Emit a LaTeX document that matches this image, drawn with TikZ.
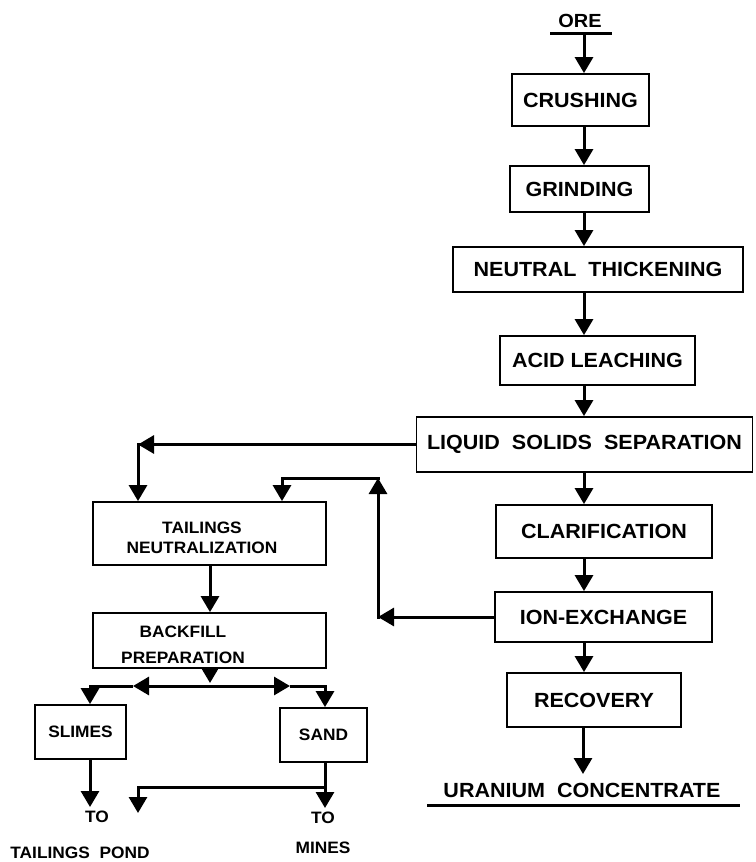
\documentclass[tikz,border=0pt]{standalone}
\usepackage{fontspec}
\setmainfont{Liberation Sans}[FakeStretch=1.05]
\usetikzlibrary{arrows.meta}
\newcommand\BigT{\bfseries\fontsize{20.5}{24}\selectfont}
\newcommand\SmT{\bfseries\fontsize{16.5}{20}\selectfont}
\begin{document}
\begin{tikzpicture}[x=1pt,y=-1pt,
  box/.style={draw, line width=1.8pt, inner sep=0pt, font=\BigT},
  sbox/.style={draw, line width=1.8pt, inner sep=0pt, font=\SmT, align=center},
  ln/.style={line width=3pt},
  flow/.style={line width=3pt, -{Triangle[width=18pt,length=16pt]}},
  lbl/.style={inner sep=0pt, font=\SmT, align=center}]
\useasboundingbox (0,0) rectangle (755,862);
% main column
\node[inner sep=0pt, font=\bfseries\fontsize{19}{22}\selectfont] (ore) at (580,21) {ORE};
\node[box, minimum width=137pt, minimum height=52pt] (crush) at (580.5,100) {CRUSHING};
\node[box, minimum width=139pt, minimum height=46pt] (grind) at (579.5,189) {GRINDING};
\node[box, minimum width=290pt, minimum height=45pt] (nt) at (598,269.5) {NEUTRAL~~THICKENING};
\node[box, minimum width=195pt, minimum height=49pt] (al) at (597.5,360.5) {ACID LEACHING};
\node[box, minimum width=336pt, minimum height=55pt] (lss) at (584.5,444.5) {LIQUID~~SOLIDS~~SEPARATION};
\node[box, minimum width=216pt, minimum height=53pt] (cl) at (604,531.5) {CLARIFICATION};
\node[box, minimum width=217pt, minimum height=50pt] (ie) at (603.5,617) {ION-EXCHANGE};
\node[box, minimum width=174pt, minimum height=54pt] (re) at (594,700) {RECOVERY};
\node[inner sep=0pt, font=\BigT] (uc) at (582,790) {URANIUM~~CONCENTRATE};
% left branch
\node[sbox, minimum width=233pt, minimum height=63pt] (tn) at (209.5,533.5) {};
\node[lbl] (tntxt) at (202,538) {TAILINGS\\NEUTRALIZATION};
\node[sbox, minimum width=233pt, minimum height=55pt] (bp) at (209.5,640.5) {};
\node[lbl, font=\bfseries\fontsize{16.5}{26}\selectfont] (bptxt) at (183,645) {BACKFILL\\PREPARATION};
\node[sbox, minimum width=91pt, minimum height=54pt] (slimes) at (80.5,732) {SLIMES};
\node[sbox, minimum width=87pt, minimum height=54pt] (sand) at (323.5,735) {SAND};
\node[lbl] (to1) at (97,817) {TO};
\node[lbl] (pond) at (80,853) {TAILINGS~~POND};
\node[lbl] (to2) at (323,818) {TO};
\node[lbl] (mines) at (323,848) {MINES};
% coordinates
\coordinate (col) at (584,0);
\coordinate (oreL) at (550,33);
\coordinate (oreR) at (612,33);
\coordinate (oreO) at (584,33);
\coordinate (ucL) at (427,805);
\coordinate (ucR) at (740,805);
\coordinate (ucIn) at (583,774);
\coordinate (c1) at (138,444.5);
\coordinate (c2) at (378,617);
\coordinate (c3) at (378,478);
\coordinate (c4) at (282,478);
\coordinate (jn) at (210,686);
\coordinate (lA) at (133,686);
\coordinate (lC) at (90,686);
\coordinate (rA) at (290,686);
\coordinate (rC) at (325,686);
\coordinate (slA) at (90,807);
\coordinate (sb) at (325,787);
\coordinate (sl) at (138,787);
\coordinate (slE) at (138,813);
\coordinate (mnA) at (325,808);
% underlines
\draw[ln] (oreL) -- (oreR);
\draw[ln] (ucL) -- (ucR);
% main flow
\draw[flow] (oreO) -- (crush.north -| col);
\draw[flow] (crush.south -| col) -- (grind.north -| col);
\draw[flow] (grind.south -| col) -- (nt.north -| col);
\draw[flow] (nt.south -| col) -- (al.north -| col);
\draw[flow] (al.south -| col) -- (lss.north -| col);
\draw[flow] (lss.south -| col) -- (cl.north -| col);
\draw[flow] (cl.south -| col) -- (ie.north -| col);
\draw[flow] (ie.south -| col) -- (re.north -| col);
\draw[flow] (re.south -| ucIn) -- (ucIn);
% tailings from LSS
\draw[flow] (lss.west) -- (c1);
\draw[flow, line cap=rect] (c1) -- (tn.north -| c1);
% recycle from ion exchange
\draw[flow] (ie.west) -- (c2);
\draw[flow, line cap=rect] (c2) -- (c3);
\draw[flow, line cap=rect] (c3) -- (c4) -- (tn.north -| c4);
% tailings neutralization to backfill
\draw[flow] (tn.south -| jn) -- (bp.north -| jn);
% backfill split
\draw[flow] (bp.south -| jn) -- ([yshift=3pt]jn);
\draw[flow] (jn) -- (lA);
\draw[flow] (lA) -- (lC) -- (slimes.north -| lC);
\draw[flow] (jn) -- (rA);
\draw[flow] (rA) -- (rC) -- (sand.north -| rC);
% outputs
\draw[flow] (slimes.south -| slA) -- (slA);
\draw[flow] (sand.south -| mnA) -- (mnA);
\draw[flow, line cap=rect] (sb) -- (sl) -- (slE);
\end{tikzpicture}
\end{document}
